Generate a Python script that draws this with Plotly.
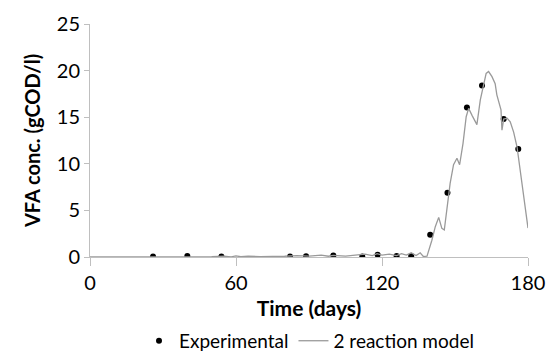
import plotly.graph_objects as go

# Experimental data
exp_days = [25.9, 40.0, 54.0, 82.2, 88.8, 100.0, 111.9, 118.2, 126.0, 132.0,
            139.8, 146.9, 154.9, 161.1, 170.0, 176.0]
exp_vfa = [0.05, 0.1, 0.05, 0.05, 0.08, 0.15, 0.05, 0.25, 0.1, 0.1,
           2.4, 6.9, 16.05, 18.4, 14.8, 11.6]

# 2 reaction model
model_days = [0, 10, 20, 30, 40, 50, 55, 58, 60, 62, 65, 70, 80, 85, 90, 95, 98, 100,
              105, 110, 113, 116, 118, 120, 123, 126, 128, 130, 132, 134, 135.7, 137,
              138.5, 140.5, 141.9, 143.3, 144.6, 145.6, 146.9, 148.0, 149.4, 150.8,
              151.9, 153.3, 154.6, 155.6, 157.0, 159.0, 160.4, 161.7, 162.8, 163.8,
              165.2, 166.5, 167.2, 168.9, 169.3, 170.0, 171.4, 172.7, 174.1, 175.5,
              176.8, 178.2, 180.0]
model_vfa = [0.0, 0.0, 0.02, 0.03, 0.05, 0.05, 0.1, 0.02, 0.12, 0.03, 0.1, 0.05, 0.08,
             0.15, 0.1, 0.2, 0.08, 0.18, 0.1, 0.2, 0.3, 0.15, 0.35, 0.2, 0.3, 0.15, 0.35,
             0.2, 0.45, 0.15, 0.45, 0.05, 0.1, 1.8, 3.25, 4.25, 3.07, 2.9, 5.75, 7.9,
             9.9, 10.6, 9.9, 12.2, 15.05, 15.95, 15.2, 14.2, 16.85, 18.3, 19.7, 19.9,
             19.35, 18.6, 17.4, 15.8, 13.6, 14.8, 14.9, 14.5, 13.4, 11.8, 9.3, 6.5, 3.1]

x_ticks = [0, 60, 120, 180]
y_ticks = [0, 5, 10, 15, 20, 25]

fig = go.Figure()
fig.add_trace(go.Scatter(x=exp_days, y=exp_vfa, mode="markers", name="Experimental",
                         marker=dict(color="black", size=6)))
fig.add_trace(go.Scatter(x=model_days, y=model_vfa, mode="lines", name="2 reaction model",
                         line=dict(color="#9a9a9a", width=1.3)))

font = "Lato"
fig.update_layout(
    width=554, height=355,
    margin=dict(l=90, r=26, t=24, b=98, autoexpand=False),
    paper_bgcolor="white", plot_bgcolor="white",
    font=dict(family=font, size=20, color="black"),
    showlegend=True,
    legend=dict(orientation="h", x=0.5, xanchor="center", y=-0.36, yanchor="middle",
                font=dict(size=19), itemwidth=30, tracegroupgap=0),
    xaxis=dict(range=[0, 180], tickvals=x_ticks, showgrid=False, zeroline=False,
               showline=True, linecolor="#bfbfbf", linewidth=1,
               ticks="outside", ticklen=8, tickcolor="#bfbfbf",
               tickfont=dict(size=20),
               title=dict(text="<b>Time (days)</b>", font=dict(size=21), standoff=8)),
    yaxis=dict(range=[0, 25], tickvals=y_ticks, showgrid=False, zeroline=False,
               showline=True, linecolor="#bfbfbf", linewidth=1,
               ticks="outside", ticklen=5, tickcolor="#bfbfbf",
               tickfont=dict(size=20),
               title=dict(text="<b>VFA conc. (gCOD/l)</b>", font=dict(size=20), standoff=10)),
)

fig.write_html("out.html")
